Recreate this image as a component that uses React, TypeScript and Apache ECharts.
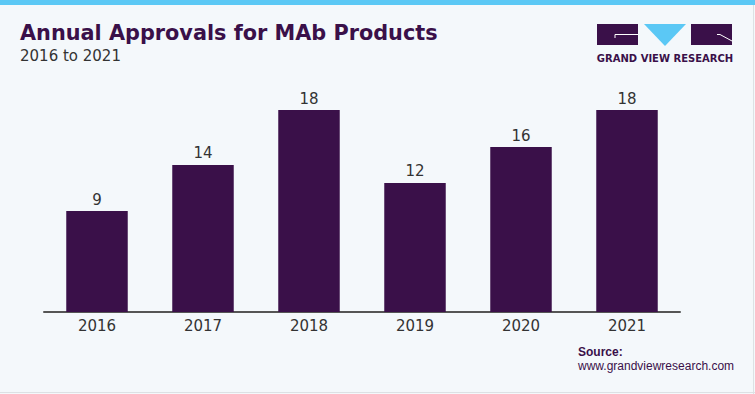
import React, { useEffect, useRef } from "react";
import * as echarts from "echarts";

const categories = ["2016", "2017", "2018", "2019", "2020", "2021"];
const barHeights = [9, 13.1, 18, 11.5, 14.7, 18];
// value labels printed above the bars
const valueLabels = ["9", "14", "18", "12", "16", "18"];
const titleText = "Annual Approvals for MAb Products";
const subtitleText = "2016 to 2021";
const sourceLabel = "Source:";
const sourceUrl = "www.grandviewresearch.com";

const PURPLE = "#3a1049";

export default function App() {
  const ref = useRef<HTMLDivElement>(null);
  useEffect(() => {
    const chart = echarts.init(ref.current!, null, { renderer: "svg" });
    chart.setOption({
      animation: false,
      backgroundColor: "#f4f8fb",
      grid: { left: 44, right: 75, top: 110, bottom: 82 },
      xAxis: {
        type: "category",
        data: categories,
        axisLine: { lineStyle: { color: "#555", width: 2 } },
        axisTick: { show: false },
        axisLabel: { color: "#333", fontSize: 15, fontFamily: "DejaVu Sans", margin: 6 },
      },
      yAxis: { type: "value", min: 0, max: 18, show: false, splitLine: { show: false } },
      series: [
        {
          type: "bar",
          data: barHeights,
          barWidth: "58%",
          itemStyle: { color: PURPLE },
          label: {
            show: true,
            position: "top",
            color: "#333",
            fontSize: 15,
            fontFamily: "DejaVu Sans",
            distance: 4,
            formatter: (p: any) => valueLabels[p.dataIndex],
          },
        },
      ],
      graphic: [
        { type: "rect", shape: { x: 0, y: 0, width: 755, height: 5 }, style: { fill: "#5bc8f5" } },
        { type: "line", shape: { x1: 753.5, y1: 5, x2: 753.5, y2: 394 }, style: { stroke: "#dde1e4", lineWidth: 1 } },
        { type: "line", shape: { x1: 0, y1: 392.5, x2: 755, y2: 392.5 }, style: { stroke: "#dde1e4", lineWidth: 1 } },
        {
          type: "text",
          x: 20,
          y: 22,
          style: { text: titleText, fill: PURPLE, fontSize: 20.8, fontWeight: "bold", fontFamily: "DejaVu Sans" },
        },
        {
          type: "text",
          x: 20,
          y: 48,
          style: { text: subtitleText, fill: "#333", fontSize: 15, fontFamily: "DejaVu Sans" },
        },
        // logo
        { type: "rect", shape: { x: 597, y: 24, width: 41, height: 21 }, style: { fill: PURPLE } },
        { type: "polyline", shape: { points: [[615, 38], [615, 34.5], [638, 34.5]] }, style: { stroke: "#ffffff", lineWidth: 1, fill: "none" } },
        { type: "polygon", shape: { points: [[644, 24], [686, 24], [665, 46]] }, style: { fill: "#5bc8f5" } },
        { type: "rect", shape: { x: 691, y: 24, width: 41, height: 21 }, style: { fill: PURPLE } },
        { type: "polyline", shape: { points: [[717, 34.5], [720, 34.5], [732, 41]] }, style: { stroke: "#ffffff", lineWidth: 1, fill: "none" } },
        {
          type: "text",
          x: 665,
          y: 53,
          style: {
            text: "GRAND VIEW RESEARCH",
            fill: PURPLE,
            fontSize: 10,
            fontWeight: "bold",
            fontFamily: "DejaVu Sans",
            align: "center",
          },
        },
        {
          type: "text",
          x: 578,
          y: 346,
          style: { text: sourceLabel, fill: PURPLE, fontSize: 12, fontWeight: "bold", fontFamily: "Liberation Sans" },
        },
        {
          type: "text",
          x: 578,
          y: 360,
          style: { text: sourceUrl, fill: PURPLE, fontSize: 12, fontFamily: "Liberation Sans" },
        },
      ],
    });
    return () => chart.dispose();
  }, []);
  return <div ref={ref} style={{ position: "fixed", left: 0, top: 0, width: 755, height: 394 }} />;
}
